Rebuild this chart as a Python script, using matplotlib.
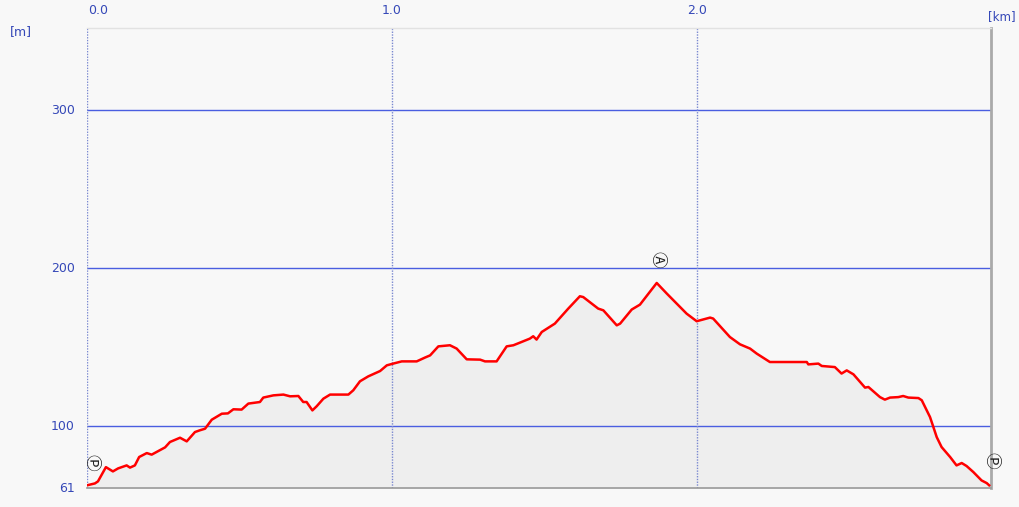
import matplotlib
matplotlib.use('Agg')
import matplotlib.pyplot as plt
import numpy as np

# distance [km] and elevation [m]
dist_km = [0.000, 0.026, 0.036, 0.062, 0.085, 0.102, 0.130, 0.141, 0.157, 0.171,
           0.196, 0.212, 0.234, 0.256, 0.272, 0.305, 0.327, 0.354, 0.370, 0.387,
           0.409, 0.442, 0.462, 0.480, 0.507, 0.529, 0.567, 0.578, 0.611, 0.644,
           0.666, 0.693, 0.709, 0.720, 0.739, 0.753, 0.775, 0.797, 0.857, 0.873,
           0.895, 0.922, 0.961, 0.983, 1.004, 1.032, 1.081, 1.108, 1.125, 1.152,
           1.190, 1.212, 1.245, 1.289, 1.305, 1.343, 1.376, 1.398, 1.420, 1.452,
           1.463, 1.474, 1.491, 1.534, 1.578, 1.616, 1.627, 1.676, 1.693, 1.737,
           1.748, 1.786, 1.813, 1.868, 1.901, 1.966, 1.999, 2.043, 2.053, 2.108,
           2.141, 2.174, 2.196, 2.239, 2.360, 2.365, 2.398, 2.409, 2.452, 2.474,
           2.491, 2.513, 2.551, 2.562, 2.600, 2.616, 2.633, 2.660, 2.676, 2.693,
           2.726, 2.737, 2.764, 2.775, 2.786, 2.802, 2.830, 2.851, 2.868, 2.884,
           2.906, 2.933, 2.950, 2.958]
elev_m = [62.7, 63.9, 65.2, 74.2, 71.5, 73.4, 75.3, 73.9, 75.3, 80.6,
          83.1, 82.1, 84.4, 86.7, 90.1, 92.8, 90.5, 96.4, 97.5, 98.5,
          104.2, 108.0, 108.2, 110.8, 110.6, 114.4, 115.4, 118.2, 119.6, 120.1,
          119.0, 119.2, 115.4, 115.4, 110.1, 112.7, 117.5, 120.1, 120.1, 122.8,
          128.5, 131.6, 135.0, 138.6, 139.7, 141.1, 141.1, 143.5, 144.9, 150.6,
          151.3, 149.2, 142.4, 142.2, 141.1, 141.1, 150.6, 151.3, 153.0, 155.5,
          157.0, 154.9, 159.7, 165.0, 174.5, 182.3, 181.8, 174.5, 173.4, 163.9,
          165.0, 173.9, 177.0, 190.7, 184.0, 171.3, 166.5, 168.8, 168.2, 156.5,
          151.9, 149.2, 146.0, 140.7, 140.7, 139.2, 139.7, 138.2, 137.5, 133.4,
          135.4, 132.9, 124.5, 124.9, 118.5, 116.9, 118.2, 118.5, 119.2, 118.2,
          117.9, 116.5, 105.9, 99.6, 93.2, 86.9, 80.6, 75.3, 76.8, 74.9,
          71.1, 65.8, 64.1, 62.7]

x_ticks = [0.0, 1.0, 2.0]
x_labels = ['0.0', '1.0', '2.0']
y_ticks = [61, 100, 200, 300]
y_labels = ['61', '100', '200', '300']

# waypoint marks: (km, m, glyph)
marks = [(0.012, 77.5, '\u24c5'), (1.868, 205.5, '\u24b6'), (2.964, 78.5, '\u24c5')]

x_max = 2.964
y_min, y_max = 61, 352
label_col = '#3548b8'

fig = plt.figure(figsize=(10.19, 5.07), dpi=100, facecolor='#f8f8f8')
ax = fig.add_axes([87/1019, 19/507, (991-87)/1019, (488-28)/507])
ax.set_facecolor('#f8f8f8')
ax.set_xlim(0, x_max)
ax.set_ylim(y_min, y_max)

# shaded area under profile
ax.fill_between(dist_km, y_min, elev_m, color='#eeeeee', zorder=1)

for y in [100, 200, 300]:
    ax.axhline(y, color='#4a5ee0', lw=1.0, zorder=2)
for x in x_ticks:
    ax.axvline(x, color='#7a88d0', lw=1.0, ls=(0, (1, 1)), zorder=2)

ax.plot(dist_km, elev_m, color='#ff0000', lw=1.8, zorder=4)

for mx, my, g in marks:
    ax.text(mx, my, g, rotation=-90, ha='center', va='center', fontsize=12,
            color='#222222', zorder=5, clip_on=False,
            family=['Noto Sans CJK JP', 'DejaVu Sans'])

ax.set_xticks([])
ax.set_yticks([])
ax.spines['left'].set_visible(False)
ax.spines['bottom'].set_color('#999999')
ax.spines['bottom'].set_linewidth(1.2)
ax.spines['top'].set_color('#e2e2e2')
ax.spines['top'].set_linewidth(1.0)
ax.spines['right'].set_color('#aaaaaa')
ax.spines['right'].set_linewidth(2.0)

# tick labels drawn as text
for yv, lab in zip(y_ticks, y_labels):
    ax.text(-0.04, yv, lab, ha='right', va='center', fontsize=9,
            color=label_col, clip_on=False)
for xv, lab in zip(x_ticks, x_labels):
    off = 0.035 if xv == 0 else 0.0
    ax.text(xv + off, y_max + 7, lab, ha='center', va='bottom', fontsize=9,
            color=label_col, clip_on=False)
fig.text(10/1019, 1 - 32/507, '[m]', ha='left', va='center', fontsize=9, color=label_col)
fig.text(1016/1019, 1 - 17/507, '[km]', ha='right', va='center', fontsize=8.5, color=label_col)

fig.savefig('out.png', dpi=100, facecolor=fig.get_facecolor())
